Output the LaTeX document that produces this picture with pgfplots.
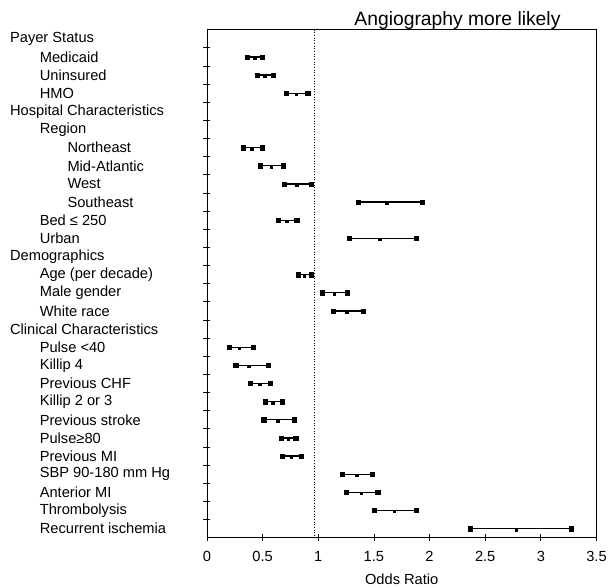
\documentclass[border=0pt]{standalone}
\usepackage{fontspec}
\setmainfont{Liberation Sans}
\usepackage{pgfplots}
\usepackage{pgfplotstable}
\pgfplotsset{compat=1.18}
\newcommand\lA[1]{\hspace*{30pt}#1}
\newcommand\lB[1]{\hspace*{58pt}#1}
\pgfplotstableread{
row mid lo hi
2 0.427 0.364 0.496
3 0.520 0.451 0.593
4 0.800 0.712 0.905
7 0.400 0.327 0.496
8 0.576 0.480 0.688
9 0.807 0.697 0.940
10 1.616 1.356 1.934
11 0.718 0.638 0.807
12 1.551 1.281 1.881
14 0.872 0.822 0.934
15 1.142 1.038 1.261
16 1.258 1.133 1.400
18 0.288 0.199 0.415
19 0.377 0.258 0.549
20 0.475 0.391 0.569
21 0.593 0.522 0.676
22 0.635 0.510 0.786
23 0.730 0.665 0.798
24 0.756 0.676 0.845
25 1.344 1.213 1.483
26 1.385 1.254 1.534
27 1.681 1.501 1.877
28 2.779 2.364 3.274
}\ordata
\begin{document}
\begin{tikzpicture}[font=\fontsize{14.8pt}{17pt}\selectfont]
\begin{axis}[
  width=393.4pt, height=513pt, scale only axis,
  xmin=0, xmax=3.5, ymin=0.5, ymax=28.5, y dir=reverse,
  axis line style={line width=0.9pt},
  xtick={0,0.5,...,3.5},
  xticklabels={0,0.5,1,1.5,2,2.5,3,3.5},
  ytick={1.5,2.5,...,27.5}, yticklabels={},
  xtick pos=bottom, ytick pos=left,
  tick align=center, major tick length=7pt,
  tick style={line width=0.8pt, black},
  x tick label style={yshift=-7pt},
  xlabel={Odds Ratio},
  xlabel style={yshift=-5pt},
  /pgf/number format/assume math mode=true,
  extra y ticks={1,...,28},
  extra y tick labels={Payer Status,\lA{Medicaid},\lA{Uninsured},\lA{HMO},Hospital Characteristics,\lA{Region},\lB{Northeast},\lB{Mid-Atlantic},\lB{West},\lB{Southeast},\lA{Bed ≤ 250},\lA{Urban},Demographics,\lA{Age (per decade)},\lA{Male gender},\lA{White race},Clinical Characteristics,\lA{Pulse <40},\lA{Killip 4},\lA{Previous CHF},\lA{Killip 2 or 3},\lA{Previous stroke},\lA{Pulse≥80},\lA{Previous MI},\lA{SBP 90-180 mm Hg},\lA{Anterior MI},\lA{Thrombolysis},\lA{Recurrent ischemia}},
  extra y tick style={major tick length=0pt, yticklabel style={anchor=west, xshift=-199pt, inner sep=0pt}},
  clip=false,
]
\addplot[black, dotted, line width=0.7pt] coordinates {(0.965,0.5) (0.965,28.5)};
\addplot[only marks, black, mark=square*, mark size=1.3pt, mark options={yshift=-0.8pt},
  error bars/.cd, x dir=both, x explicit,
  error bar style={line width=1.4pt, black},
  error mark=square*, error mark options={mark size=2.1pt, black, rotate=90}]
  table[x=mid, y=row, x error plus expr=\thisrow{hi}-\thisrow{mid}, x error minus expr=\thisrow{mid}-\thisrow{lo}] {\ordata};
\node[anchor=base, font=\fontsize{19.5pt}{22pt}\selectfont, inner sep=0pt] at ([yshift=4pt]rel axis cs:0.643,1) {Angiography more likely};
\end{axis}
\path ([shift={(-209pt,-42pt)}]current axis.south west) rectangle ([shift={(7pt,30pt)}]current axis.north east);
\end{tikzpicture}
\end{document}
